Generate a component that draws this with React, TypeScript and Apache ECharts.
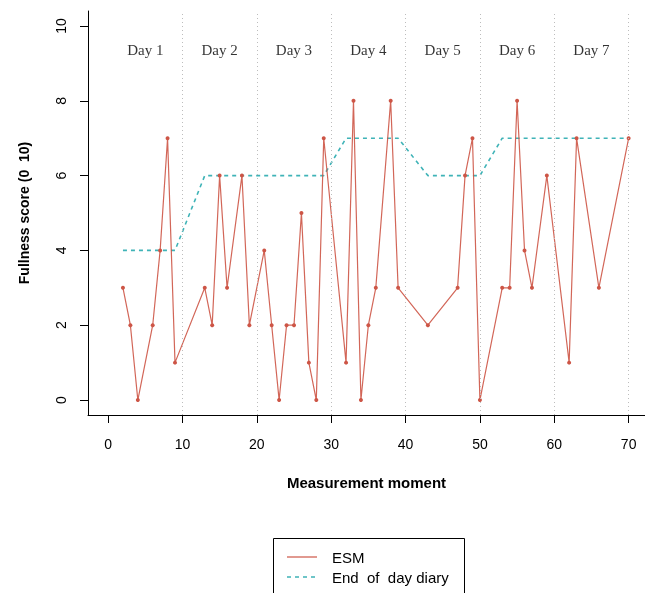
import React, { useEffect, useRef } from "react";
import * as echarts from "echarts";

const esmX = [2, 3, 4, 6, 7, 8, 9, 13, 14, 15, 16, 18, 19, 21, 22, 23, 24, 25, 26, 27, 28, 29, 32, 33, 34, 35, 36, 38, 39, 43, 47, 48, 49, 50, 53, 54, 55, 56, 57, 59, 62, 63, 66, 70];
const esmY = [3, 2, 0, 2, 4, 7, 1, 3, 2, 6, 3, 6, 2, 4, 2, 0, 2, 2, 5, 1, 0, 7, 1, 8, 0, 2, 3, 8, 3, 2, 3, 6, 7, 0, 3, 3, 8, 4, 3, 6, 1, 7, 3, 7];
const diaryY = [4, 4, 4, 4, 4, 4, 4, 6, 6, 6, 6, 6, 6, 6, 6, 6, 6, 6, 6, 6, 6, 6, 7, 7, 7, 7, 7, 7, 7, 6, 6, 6, 6, 6, 7, 7, 7, 7, 7, 7, 7, 7, 7, 7];
const dayLabels = ["Day 1", "Day 2", "Day 3", "Day 4", "Day 5", "Day 6", "Day 7"];
const dayCenters = [5, 15, 25, 35, 45, 55, 65];
const dayBoundaries = [10, 20, 30, 40, 50, 60, 70];
const xTicks = [0, 10, 20, 30, 40, 50, 60, 70];
const yTicks = [0, 2, 4, 6, 8, 10];
const dayLabelY = 9.35;

const RED = "#CD5546";
const TEAL = "#3FB3B7";
const SANS = "Liberation Sans, Arial, sans-serif";
const SERIF = "Liberation Serif, Times New Roman, serif";

export default function App() {
  const ref = useRef<HTMLDivElement>(null);
  useEffect(() => {
    const chart = echarts.init(ref.current!, null, { renderer: "svg" });
    chart.setOption({
      animation: false,
      grid: { left: 88, right: 0, top: 11, bottom: 178, containLabel: false },
      xAxis: {
        type: "value",
        min: -2.7,
        max: 72.2,
        name: "Measurement moment",
        nameLocation: "middle",
        nameGap: 60,
        nameTextStyle: { fontFamily: SANS, fontWeight: "bold", fontSize: 15, color: "#000" },
        axisLine: { show: true, onZero: false, lineStyle: { color: "#000", width: 1 } },
        axisTick: { show: true, customValues: xTicks, length: 8, lineStyle: { color: "#000" } },
        axisLabel: { customValues: xTicks, margin: 22, fontFamily: SANS, fontSize: 14, color: "#000" },
        splitLine: { show: false },
      },
      yAxis: {
        type: "value",
        min: -0.4,
        max: 10.4,
        name: "Fullness score (0  10)",
        nameLocation: "middle",
        nameGap: 57,
        nameTextStyle: { fontFamily: SANS, fontWeight: "bold", fontSize: 14, color: "#000" },
        axisLine: { show: true, onZero: false, lineStyle: { color: "#000", width: 1 } },
        axisTick: { show: true, customValues: yTicks, length: 8, lineStyle: { color: "#000" } },
        axisLabel: { customValues: yTicks, rotate: 90, margin: 20, fontFamily: SANS, fontSize: 14, color: "#000" },
        splitLine: { show: false },
      },
      series: [
        {
          type: "line",
          name: "End  of  day diary",
          data: esmX.map((x, i) => [x, diaryY[i]]),
          showSymbol: false,
          symbol: "none",
          lineStyle: { color: TEAL, width: 1.6, type: [4, 4] },
          z: 2,
          markLine: {
            silent: true,
            symbol: "none",
            label: { show: false },
            lineStyle: { color: "#bdbdbd", width: 1, type: [1, 3] },
            data: dayBoundaries.map((v) => ({ xAxis: v })),
          },
        },
        {
          type: "line",
          name: "ESM",
          data: esmX.map((x, i) => [x, esmY[i]]),
          symbol: "circle",
          symbolSize: 4,
          itemStyle: { color: RED },
          lineStyle: { color: RED, width: 1.2, opacity: 0.9 },
          z: 3,
        },
        {
          type: "scatter",
          data: dayCenters.map((x, i) => ({ value: [x, dayLabelY], name: dayLabels[i] })),
          symbolSize: 0,
          label: {
            show: true,
            position: "inside",
            formatter: (p: any) => p.name,
            fontFamily: SERIF,
            fontSize: 15,
            color: "#000",
          },
          silent: true,
          z: 4,
        },
      ],
      graphic: [
        {
          type: "rect",
          shape: { x: 273.5, y: 538.5, width: 191, height: 70 },
          style: { fill: "#fff", stroke: "#000", lineWidth: 1 },
        },
        {
          type: "line",
          shape: { x1: 287, y1: 557, x2: 317, y2: 557 },
          style: { stroke: RED, lineWidth: 1.2 },
        },
        {
          type: "line",
          shape: { x1: 287, y1: 577, x2: 317, y2: 577 },
          style: { stroke: TEAL, lineWidth: 1.4, lineDash: [4, 4] },
        },
        {
          type: "text",
          x: 332,
          y: 557,
          style: { text: "ESM", fontFamily: SANS, fontSize: 15, fill: "#000", verticalAlign: "middle" },
        },
        {
          type: "text",
          x: 332,
          y: 577,
          style: { text: "End  of  day diary", fontFamily: SANS, fontSize: 15, fill: "#000", verticalAlign: "middle" },
        },
      ],
    });
    return () => chart.dispose();
  }, []);
  return <div ref={ref} style={{ position: "fixed", left: 0, top: 0, width: 645, height: 593 }} />;
}
